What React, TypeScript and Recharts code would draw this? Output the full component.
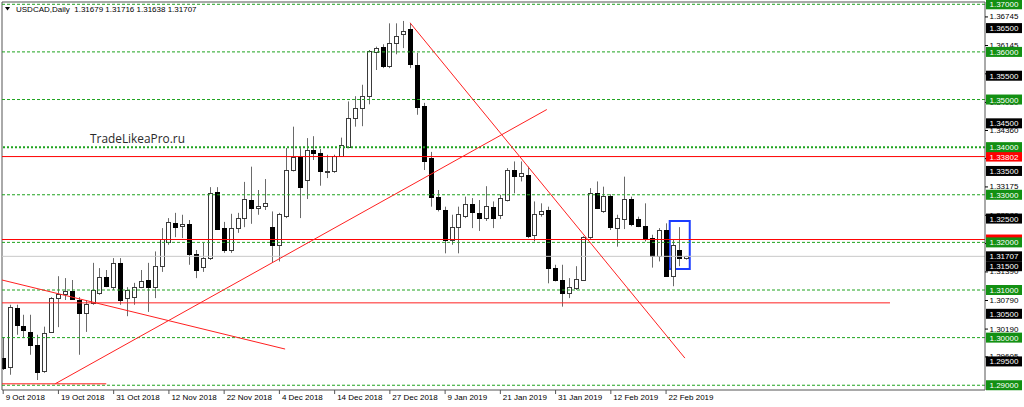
import { ComposedChart, Bar, XAxis, YAxis, ReferenceLine, ReferenceArea } from "recharts";

const dates = [
  "9 Oct 2018", "10 Oct 2018", "11 Oct 2018", "12 Oct 2018", "15 Oct 2018", "16 Oct 2018", "17 Oct 2018", "18 Oct 2018",
  "19 Oct 2018", "22 Oct 2018", "23 Oct 2018", "24 Oct 2018", "25 Oct 2018", "26 Oct 2018", "29 Oct 2018", "30 Oct 2018",
  "31 Oct 2018", "1 Nov 2018", "2 Nov 2018", "5 Nov 2018", "6 Nov 2018", "7 Nov 2018", "8 Nov 2018", "9 Nov 2018",
  "12 Nov 2018", "13 Nov 2018", "14 Nov 2018", "15 Nov 2018", "16 Nov 2018", "19 Nov 2018", "20 Nov 2018", "21 Nov 2018",
  "22 Nov 2018", "23 Nov 2018", "26 Nov 2018", "27 Nov 2018", "28 Nov 2018", "29 Nov 2018", "30 Nov 2018", "3 Dec 2018",
  "4 Dec 2018", "5 Dec 2018", "6 Dec 2018", "7 Dec 2018", "10 Dec 2018", "11 Dec 2018", "12 Dec 2018", "13 Dec 2018",
  "14 Dec 2018", "17 Dec 2018", "18 Dec 2018", "19 Dec 2018", "20 Dec 2018", "21 Dec 2018", "24 Dec 2018", "26 Dec 2018",
  "27 Dec 2018", "28 Dec 2018", "31 Dec 2018", "2 Jan 2019", "3 Jan 2019", "4 Jan 2019", "7 Jan 2019", "8 Jan 2019",
  "9 Jan 2019", "10 Jan 2019", "11 Jan 2019", "14 Jan 2019", "15 Jan 2019", "16 Jan 2019", "17 Jan 2019", "18 Jan 2019",
  "21 Jan 2019", "22 Jan 2019", "23 Jan 2019", "24 Jan 2019", "25 Jan 2019", "28 Jan 2019", "29 Jan 2019", "30 Jan 2019",
  "31 Jan 2019", "1 Feb 2019", "4 Feb 2019", "5 Feb 2019", "6 Feb 2019", "7 Feb 2019", "8 Feb 2019", "11 Feb 2019",
  "12 Feb 2019", "13 Feb 2019", "14 Feb 2019", "15 Feb 2019", "18 Feb 2019", "19 Feb 2019", "20 Feb 2019", "21 Feb 2019",
  "22 Feb 2019", "25 Feb 2019", "26 Feb 2019", "27 Feb 2019",
];

const open = [
  1.2957, 1.2939, 1.3063, 1.3024, 1.3012, 1.2985, 1.2929, 1.3012, 1.3083, 1.3092,
  1.3097, 1.3079, 1.3052, 1.3073, 1.3094, 1.3127, 1.3106, 1.3157, 1.3083, 1.3085,
  1.3106, 1.3121, 1.3107, 1.3150, 1.3201, 1.3241, 1.3234, 1.3239, 1.3175, 1.3148,
  1.3167, 1.3306, 1.3230, 1.3184, 1.3230, 1.3251, 1.3288, 1.3272, 1.3277, 1.3233,
  1.3195, 1.3256, 1.3352, 1.3379, 1.3331, 1.3394, 1.3388, 1.3349, 1.3350, 1.3381,
  1.3400, 1.3461, 1.3482, 1.3507, 1.3599, 1.3610, 1.3570, 1.3618, 1.3638, 1.3648,
  1.3573, 1.3486, 1.3378, 1.3296, 1.3268, 1.3205, 1.3232, 1.3255, 1.3281, 1.3261,
  1.3251, 1.3274, 1.3258, 1.3288, 1.3352, 1.3340, 1.3342, 1.3216, 1.3259, 1.3268,
  1.3146, 1.3121, 1.3094, 1.3105, 1.3121, 1.3211, 1.3304, 1.3265, 1.3298, 1.3230,
  1.3249, 1.3291, 1.3249, 1.3234, 1.3209, 1.3171, 1.3226, 1.3130, 1.3184, 1.31679,
];
const high = [
  1.3001, 1.3069, 1.3069, 1.3048, 1.3048, 1.3006, 1.3023, 1.3085, 1.3129, 1.3125,
  1.3121, 1.3085, 1.3079, 1.3157, 1.3146, 1.3142, 1.3167, 1.3167, 1.3106, 1.3115,
  1.3142, 1.3157, 1.3181, 1.3230, 1.3251, 1.3262, 1.3258, 1.3247, 1.3184, 1.3199,
  1.3316, 1.3316, 1.3243, 1.3260, 1.3262, 1.3327, 1.3359, 1.3310, 1.3333, 1.3265,
  1.3262, 1.3398, 1.3443, 1.3398, 1.3419, 1.3423, 1.3396, 1.3384, 1.3384, 1.3420,
  1.3496, 1.3507, 1.3531, 1.3604, 1.3611, 1.3616, 1.3660, 1.3660, 1.3665, 1.3661,
  1.3598, 1.3493, 1.3390, 1.3310, 1.3275, 1.3258, 1.3275, 1.3296, 1.3293, 1.3289,
  1.3318, 1.3286, 1.3300, 1.3356, 1.3370, 1.3370, 1.3359, 1.3286, 1.3282, 1.3275,
  1.3153, 1.3153, 1.3125, 1.3150, 1.3213, 1.3314, 1.3328, 1.3317, 1.3301, 1.3258,
  1.3338, 1.3296, 1.3254, 1.3282, 1.3216, 1.3230, 1.3240, 1.3205, 1.3232, 1.31716,
];
const low = [
  1.2932, 1.2922, 1.3006, 1.2999, 1.2964, 1.2911, 1.2926, 1.3010, 1.3022, 1.3079,
  1.3079, 1.2964, 1.3012, 1.3069, 1.3090, 1.3106, 1.3100, 1.3069, 1.3045, 1.3069,
  1.3104, 1.3054, 1.3083, 1.3138, 1.3195, 1.3211, 1.3209, 1.3153, 1.3125, 1.3138,
  1.3163, 1.3226, 1.3178, 1.3178, 1.3220, 1.3232, 1.3239, 1.3258, 1.3268, 1.3157,
  1.3160, 1.3251, 1.3349, 1.3251, 1.3291, 1.3373, 1.3319, 1.3335, 1.3346, 1.3380,
  1.3398, 1.3443, 1.3444, 1.3490, 1.3562, 1.3566, 1.3566, 1.3595, 1.3608, 1.3566,
  1.3468, 1.3352, 1.3275, 1.3265, 1.3177, 1.3195, 1.3177, 1.3251, 1.3230, 1.3224,
  1.3245, 1.3230, 1.3249, 1.3286, 1.3303, 1.3328, 1.3209, 1.3202, 1.3254, 1.3114,
  1.3118, 1.3065, 1.3083, 1.3100, 1.3120, 1.3205, 1.3270, 1.3262, 1.3226, 1.3191,
  1.3228, 1.3234, 1.3232, 1.3202, 1.3147, 1.3160, 1.3128, 1.3108, 1.3150, 1.31638,
];
const close = [
  1.2936, 1.3065, 1.3027, 1.3016, 1.2985, 1.2928, 1.3010, 1.3083, 1.3092, 1.3098,
  1.3081, 1.3052, 1.3071, 1.3099, 1.3127, 1.3108, 1.3157, 1.3079, 1.3100, 1.3106,
  1.3119, 1.3106, 1.3151, 1.3207, 1.3243, 1.3233, 1.3239, 1.3175, 1.3142, 1.3167,
  1.3304, 1.3228, 1.3184, 1.3230, 1.3251, 1.3291, 1.3272, 1.3277, 1.3283, 1.3195,
  1.3260, 1.3352, 1.3380, 1.3316, 1.3394, 1.3388, 1.3349, 1.3350, 1.3381, 1.3405,
  1.3461, 1.3483, 1.3507, 1.3601, 1.3609, 1.3570, 1.3618, 1.3634, 1.3643, 1.3574,
  1.3485, 1.3370, 1.3296, 1.3270, 1.3205, 1.3233, 1.3260, 1.3281, 1.3263, 1.3252,
  1.3276, 1.3251, 1.3293, 1.3352, 1.3339, 1.3345, 1.3213, 1.3260, 1.3266, 1.3146,
  1.3121, 1.3094, 1.3107, 1.3123, 1.3211, 1.3304, 1.3272, 1.3298, 1.3232, 1.3251,
  1.3291, 1.3238, 1.3234, 1.3207, 1.3171, 1.3226, 1.3130, 1.3195, 1.3167, 1.31707,
];

const dateTicks = [0, 8, 16, 24, 32, 40, 48, 56, 64, 72, 80, 88, 96];
const gridLevels = [1.37, 1.36, 1.35, 1.34, 1.33, 1.32, 1.31, 1.3, 1.29];
const halfLevels = [1.365, 1.355, 1.345, 1.335, 1.325, 1.315, 1.305, 1.295];
const scaleLabels = [1.36745, 1.36145, 1.3555, 1.3495, 1.3436, 1.3377, 1.33175, 1.3258, 1.31985, 1.3139, 1.3079, 1.3019, 1.29605];
const redLevels = [1.33802, 1.3206];
const bid = 1.31707;
const shortLevels = [
  { price: 1.3073, from: -0.1, to: 128.5 },
  { price: 1.2903, from: -0.1, to: 15 },
];
const trendLines = [
  { x1: -0.1, y1: 1.3121, x2: 40.9, y2: 1.2976 },
  { x1: 7.6, y1: 1.2903, x2: 78.8, y2: 1.3479 },
  { x1: 59.0, y1: 1.3661, x2: 98.8, y2: 1.2957 },
];
const markBox = { x1: 96.6, x2: 99.5, y1: 1.3144, y2: 1.3245 };
const header = "USDCAD,Daily  1.31679 1.31716 1.31638 1.31707";
const watermark = "TradeLikeaPro.ru";

const X_DOMAIN: [number, number] = [-0.1, 142.26];
const Y_DOMAIN: [number, number] = [1.289, 1.37048];

const data = dates.map((date, i) => ({ i, date, o: open[i], h: high[i], l: low[i], c: close[i] }));

const W = 1024;
const H = 407;
const FONT = "'Liberation Sans', Arial, sans-serif";
const GREEN = "#1fa31f";
const GREEN_BOX = "#139013";
const RED = "#ff2020";
const FRAME = "#555";

const Candle = (props: any) => {
  let { x, y, width, height, payload } = props;
  if (height < 0) {
    y += height;
    height = -height;
  }
  const { o, h, l, c } = payload;
  const yOf = (v: number) => y + ((h - v) / (h - l)) * height;
  const cx = Math.round(x + width / 2);
  const top = Math.round(yOf(Math.max(o, c)));
  const bot = Math.round(yOf(Math.min(o, c)));
  const up = c >= o;
  return (
    <g>
      <line x1={cx + 0.5} x2={cx + 0.5} y1={y} y2={y + height} stroke="#6a6a6a" />
      <rect
        x={cx - 1.5}
        y={top + 0.5}
        width={4}
        height={Math.max(bot - top, 1)}
        fill={up ? "#fff" : "#000"}
        stroke={up ? "#3a3a3a" : "#000"}
      />
    </g>
  );
};

const DateTick = (props: any) => {
  const { x, y, payload } = props;
  return (
    <g>
      <line x1={x + 0.5} x2={x + 0.5} y1={y} y2={y + 4} stroke={FRAME} />
      <text x={x + 3} y={y + 10} fontSize={8} fontFamily={FONT} fill="#000">
        {dates[payload.value]}
      </text>
    </g>
  );
};

const PriceTick = (props: any) => {
  const { x, y, payload } = props;
  const v = payload.value as number;
  const txt = v.toFixed(5);
  let bg: string | null = null;
  if (gridLevels.includes(v)) bg = GREEN_BOX;
  else if (redLevels.includes(v)) bg = "#ff0000";
  else if (halfLevels.includes(v) || v === bid) bg = "#000";
  if (bg) {
    return (
      <g>
        <rect x={x + 1} y={y - 5} width={36} height={10} fill={bg} />
        <text x={x + 4.5} y={y + 3} fontSize={8} fontFamily={FONT} fill="#fff">
          {txt}
        </text>
      </g>
    );
  }
  return (
    <g>
      <rect x={x + 4} y={y - 5} width={33} height={10} fill="#fff" />
      <line x1={x} x2={x + 3} y1={y + 0.5} y2={y + 0.5} stroke="#000" />
      <text x={x + 4.5} y={y + 3} fontSize={8} fontFamily={FONT} fill="#000">
        {txt}
      </text>
    </g>
  );
};

export default function App() {
  return (
    <div style={{ position: "relative", width: W, height: H, background: "#fff" }}>
      <style>{"body{margin:0;background:#fff}"}</style>
      <ComposedChart width={W} height={H} data={data} margin={{ top: 2, right: 0, bottom: 0, left: 2 }}>
        <XAxis
          dataKey="i"
          type="number"
          domain={X_DOMAIN}
          allowDataOverflow
          ticks={dateTicks}
          interval={0}
          tick={<DateTick />}
          tickLine={false}
          tickSize={0}
          tickMargin={0}
          height={17}
          axisLine={{ stroke: FRAME }}
        />
        <YAxis
          orientation="right"
          type="number"
          domain={Y_DOMAIN}
          allowDataOverflow
          ticks={[...scaleLabels, ...redLevels, ...halfLevels, bid, ...gridLevels]}
          interval={0}
          tick={<PriceTick />}
          tickLine={false}
          tickSize={0}
          tickMargin={0}
          width={39}
          axisLine={{ stroke: FRAME }}
        />
        <ReferenceLine x={X_DOMAIN[0]} stroke={FRAME} />
        <ReferenceLine y={Y_DOMAIN[1]} stroke={FRAME} />
        <ReferenceLine y={bid} stroke="#c8c8c8" />
        {gridLevels.map((v) => (
          <ReferenceLine
            key={"g" + v}
            y={v}
            stroke={GREEN}
            strokeDasharray={v === 1.34 ? "2 2" : "3 2"}
            strokeWidth={v === 1.34 ? 2 : 1}
          />
        ))}
        <Bar dataKey={(d: any) => [d.l, d.h]} barSize={5} shape={<Candle />} isAnimationActive={false} />
        {redLevels.map((v) => (
          <ReferenceLine key={"r" + v} y={v} stroke="#ff0000" strokeWidth={1} />
        ))}
        {shortLevels.map((s) => (
          <ReferenceLine
            key={"s" + s.price}
            segment={[{ x: s.from, y: s.price }, { x: s.to, y: s.price }]}
            stroke={RED}
            ifOverflow="hidden"
          />
        ))}
        {trendLines.map((t, k) => (
          <ReferenceLine
            key={"t" + k}
            segment={[{ x: t.x1, y: t.y1 }, { x: t.x2, y: t.y2 }]}
            stroke={RED}
            ifOverflow="hidden"
          />
        ))}
        <ReferenceArea
          x1={markBox.x1}
          x2={markBox.x2}
          y1={markBox.y1}
          y2={markBox.y2}
          fill="none"
          fillOpacity={0}
          stroke="#1a3cff"
          strokeWidth={2}
        />
      </ComposedChart>
      <svg width={W} height={H} style={{ position: "absolute", left: 0, top: 0, pointerEvents: "none" }}>
        <path d="M5 7 L10 7 L7.5 10.5 Z" fill="#000" />
        <text x={16} y={12} fontSize={8} fontFamily={FONT} fill="#000" style={{ whiteSpace: "pre" }}>
          {header}
        </text>
        <text
          x={90}
          y={143}
          fontSize={13.5}
          fontFamily="'Open Sans', sans-serif"
          fill="#2a2a2a"
          textLength={95}
          lengthAdjust="spacingAndGlyphs"
        >
          {watermark}
        </text>
      </svg>
    </div>
  );
}
